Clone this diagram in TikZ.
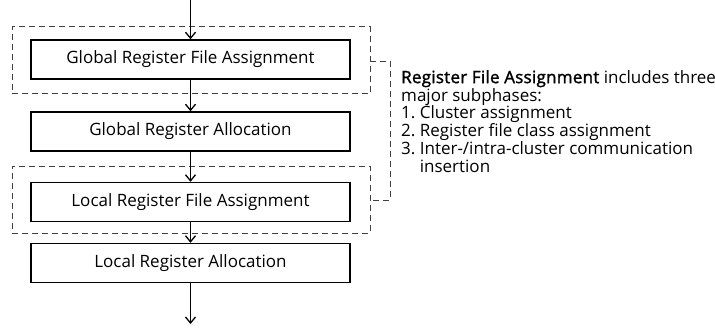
\documentclass[tikz,border=0pt]{standalone}
\usepackage{fontspec}
\setmainfont{Open Sans}
\newfontfamily\semib{Open Sans}[FakeBold=1.6,LetterSpace=1.5]
\usetikzlibrary{arrows.meta}
\begin{document}
\begin{tikzpicture}[x=1pt,y=-1pt,
  stagebox/.style={draw, line width=1.5pt, minimum width=319pt, minimum height=39pt, inner sep=0pt, font=\fontsize{17}{19}\selectfont},
  dashbox/.style={draw=black!75, dash pattern=on 6pt off 4pt, line width=0.9pt, minimum width=358pt, minimum height=67pt, inner sep=0pt},
  flow/.style={line width=1.5pt, -{Straight Barb[length=6pt,width=10pt,line width=1.3pt]}},
  bracket/.style={draw=black!75, dash pattern=on 6pt off 4pt, line width=0.9pt}]
\useasboundingbox (0,0) rectangle (715,327);
\node[dashbox] (d1) at (191,60) {};
\node[dashbox] (d2) at (191,199.5) {};
\node[stagebox] (b1) at (190.5,59.5) {Global Register File Assignment};
\node[stagebox] (b2) at (190.5,131.5) {Global Register Allocation};
\node[stagebox] (b3) at (190.5,202) {Local Register File Assignment};
\node[stagebox] (b4) at (190.5,263) {Local Register Allocation};
\coordinate (top) at (190.5,0);
\coordinate (bot) at (190.5,324);
\draw[flow] (top) -- (b1.north);
\draw[flow] (b1.south) -- (b2.north);
\draw[flow] (b2.south) -- (b3.north);
\draw[flow] (b3.south) -- (b4.north);
\draw[flow] (b4.south) -- (bot);
\coordinate (ba) at (390,61);
\coordinate (bb) at (390,200);
\draw[bracket] (d1.east |- ba) -- (ba) -- (bb) -- (d2.east |- bb);
\node[anchor=north west, inner sep=0pt, font=\fontsize{17}{16.6}\selectfont, align=left] (note) at (401,70) {%
\begin{tabular}{@{}l@{\ }l@{}}
\multicolumn{2}{@{}l@{}}{{\semib Register File Assignment} includes three}\\
\multicolumn{2}{@{}l@{}}{major subphases:}\\
1. & Cluster assignment\\
2. & Register file class assignment\\
3. & Inter-/intra-cluster communication\\
   & insertion
\end{tabular}};
\end{tikzpicture}
\end{document}
